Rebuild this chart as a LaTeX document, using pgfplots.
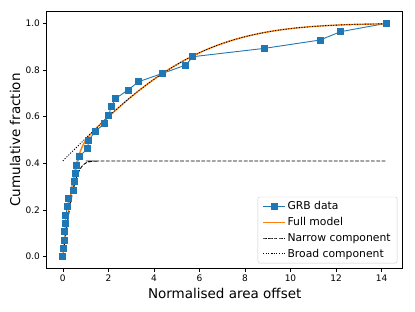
\documentclass[border=0pt]{standalone}
\usepackage{fontspec}
\setmainfont{DejaVu Sans}
\usepackage{pgfplots}
\pgfplotsset{compat=1.18}
\definecolor{mplblue}{RGB}{31,119,180}
\definecolor{mplorange}{RGB}{255,127,14}
\begin{document}
\begin{tikzpicture}
\path[use as bounding box] (-46.7pt,-42.7pt) rectangle (368.3pt,268.3pt);
\begin{axis}[
  scale only axis,
  width=356pt, height=256.6pt,
  xmin=-0.71, xmax=14.93,
  ymin=-0.05, ymax=1.05,
  xtick={0,2,4,6,8,10,12,14},
  ytick={0,0.2,0.4,0.6,0.8,1.0},
  xtick pos=bottom, ytick pos=left,
  tick align=outside,
  major tick length=3.2pt,
  every tick/.style={black, line width=0.7pt},
  axis line style={black, line width=0.8pt},
  /pgf/number format/assume math mode=true,
  yticklabel style={/pgf/number format/.cd, fixed, fixed zerofill, precision=1},
  ticklabel style={font=\fontsize{9}{10}\selectfont},
  xlabel={Normalised area offset},
  ylabel={Cumulative fraction},
  every axis x label/.style={at={(axis description cs:0.5,-0.0975)}, anchor=center, font=\fontsize{13.5}{15}\selectfont},
  every axis y label/.style={at={(axis description cs:-0.089,0.5)}, rotate=90, anchor=center, font=\fontsize{13.5}{15}\selectfont},
  legend cell align=left,
  legend style={at={(axis description cs:0.985,0.0195)}, anchor=south east,
    draw=black!20, rounded corners=2pt, font=\fontsize{10.8}{12}\selectfont,
    row sep=2.2pt, inner xsep=4.5pt, inner ysep=2.5pt},
  legend image code/.code={\draw[mark repeat=2,mark phase=2,#1] plot coordinates {(0pt,0pt) (10.85pt,0pt) (21.7pt,0pt)};},
]
\addplot[color=mplblue, line width=0.9pt, mark=square*, mark size=3pt, mark options={solid, fill=mplblue}] coordinates {
(0,0) (0.04,0.0357) (0.08,0.0714) (0.09,0.1071) (0.1,0.1429) (0.11,0.1786)
(0.22,0.2143) (0.24,0.25) (0.47,0.2857) (0.5,0.3214) (0.56,0.3571) (0.6,0.3929)
(0.73,0.4286) (1.09,0.4643) (1.13,0.5) (1.42,0.5357) (1.83,0.5714) (2.02,0.6071)
(2.12,0.6429) (2.33,0.6786) (2.86,0.7143) (3.33,0.75) (4.38,0.7857) (5.4,0.8214)
(5.71,0.8571) (8.86,0.8929) (11.3,0.9286) (12.2,0.9643) (14.2,1.0)
};
\addlegendentry{GRB data}
\addplot[color=mplorange, line width=1.4pt, smooth] coordinates {
(0,0) (0.062,0.0522) (0.124,0.1034) (0.186,0.1529) (0.248,0.1998) (0.31,0.2437)
(0.372,0.2839) (0.434,0.3202) (0.496,0.3526) (0.558,0.3810) (0.62,0.4059)
(0.682,0.4273) (0.744,0.4455) (0.806,0.4612) (0.868,0.4747) (0.93,0.4864)
(0.992,0.4965) (1.054,0.5055) (1.116,0.5135) (1.24,0.5278) (1.364,0.5406)
(1.55,0.5586) (1.86,0.5871) (2.046,0.6039) (2.728,0.6628) (3.41,0.7171)
(4.092,0.7663) (4.774,0.8099) (5.456,0.8478) (6.138,0.8802) (6.82,0.9072)
(7.502,0.9293) (8.184,0.9471) (8.866,0.9611) (9.548,0.9719) (10.23,0.9800)
(10.91,0.9860) (11.59,0.9904) (12.28,0.9936) (12.96,0.9958) (13.64,0.9972) (14.2,0.998)
};
\addlegendentry{Full model}
\addplot[color=black, line width=0.9pt, dash pattern=on 3.7pt off 1.6pt, smooth] coordinates {
(0,0) (0.062,0.0461) (0.124,0.0913) (0.186,0.1347) (0.248,0.1756) (0.31,0.2134)
(0.372,0.2476) (0.434,0.2779) (0.496,0.3043) (0.558,0.3267) (0.62,0.3455)
(0.682,0.3609) (0.744,0.3732) (0.806,0.3829) (0.868,0.3904) (0.93,0.3961)
(0.992,0.4003) (1.054,0.4034) (1.116,0.4055) (1.24,0.4081) (1.364,0.4092)
(1.55,0.4098) (1.86,0.41) (14.2,0.41)
};
\addlegendentry{Narrow component}
\addplot[color=black, line width=0.9pt, dash pattern=on 1pt off 1.65pt, smooth] coordinates {
(0,0.41) (0.682,0.4764) (1.364,0.5414) (2.046,0.6039) (2.728,0.6628) (3.41,0.7171)
(4.092,0.7663) (4.774,0.8099) (5.456,0.8478) (6.138,0.8802) (6.82,0.9072)
(7.502,0.9293) (8.184,0.9471) (8.866,0.9611) (9.548,0.9719) (10.23,0.9800)
(10.91,0.9860) (11.59,0.9904) (12.28,0.9936) (12.96,0.9958) (13.64,0.9972) (14.2,0.998)
};
\addlegendentry{Broad component}
\end{axis}
\end{tikzpicture}
\end{document}
